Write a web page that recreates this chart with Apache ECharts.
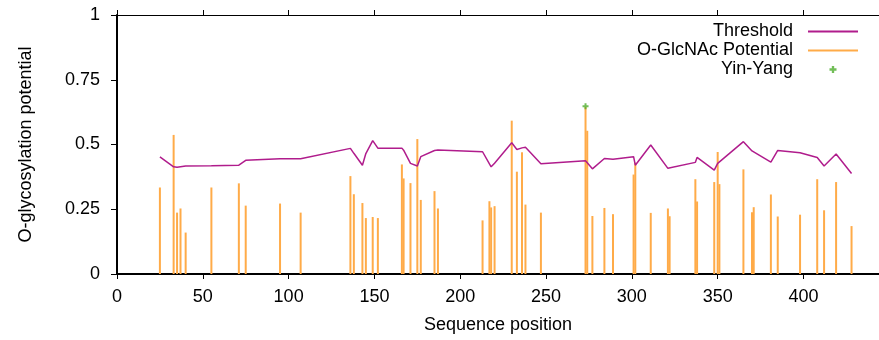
<!DOCTYPE html>
<html>
<head>
<meta charset="utf-8">
<script src="https://cdn.jsdelivr.net/npm/echarts@6/dist/echarts.min.js"></script>
<style>
  html, body { margin: 0; padding: 0; background: #fff; }
  #chart { width: 879px; height: 340px; }
</style>
</head>
<body>
<div id="chart"></div>
<script>
// site positions (S/T residues)
const positions = [25, 33, 35, 37, 40, 55, 71, 75, 95, 107,
  136, 138, 143, 145, 149, 152, 166, 167, 171, 175,
  177, 185, 187, 213, 217, 218, 220, 230, 233, 236,
  238, 247, 273, 274, 277, 284, 289, 301, 302, 311,
  321, 322, 337, 338, 348, 350, 351, 365, 370, 371,
  381, 385, 398, 408, 412, 419, 428];

const potential = [0.334, 0.537, 0.237, 0.253, 0.160, 0.334, 0.350, 0.264, 0.272, 0.237,
  0.378, 0.308, 0.274, 0.216, 0.220, 0.216, 0.423, 0.369, 0.351, 0.521,
  0.286, 0.320, 0.253, 0.207, 0.281, 0.257, 0.262, 0.592, 0.395, 0.470,
  0.268, 0.237, 0.645, 0.553, 0.224, 0.255, 0.231, 0.384, 0.430, 0.236,
  0.253, 0.223, 0.366, 0.280, 0.355, 0.471, 0.347, 0.404, 0.238, 0.258,
  0.307, 0.222, 0.229, 0.366, 0.246, 0.355, 0.185];

const threshold = [0.452, 0.414, 0.412, 0.414, 0.417, 0.418, 0.420, 0.439, 0.445, 0.445,
  0.485, 0.466, 0.420, 0.465, 0.515, 0.486, 0.486, 0.478, 0.427, 0.417,
  0.453, 0.477, 0.479, 0.472, 0.425, 0.414, 0.428, 0.507, 0.481, 0.487,
  0.489, 0.426, 0.437, 0.436, 0.406, 0.446, 0.443, 0.453, 0.420, 0.498,
  0.408, 0.415, 0.431, 0.450, 0.401, 0.427, 0.431, 0.511, 0.475, 0.468,
  0.432, 0.477, 0.468, 0.450, 0.417, 0.463, 0.388];

const yinYangPos = [273];
const yinYangVal = [0.648];

const xTicks = { min: 0, max: 444, interval: 50 };
const yTicks = { min: 0, max: 1, interval: 0.25 };

const FONT = 'Liberation Sans';
const LINE_ICON = 'path://M0,0H50V2H0Z';
const PLUS = 'path://M2,0H4V2H6V4H4V6H2V4H0V2H2Z';

let chart = echarts.init(document.getElementById('chart'), null, { renderer: 'canvas' });

let axisText = { color: '#000', fontFamily: FONT, fontSize: 18 };

let option = {
  animation: false,
  backgroundColor: '#fff',
  grid: { left: 117, right: 0, top: 15, bottom: 66 },
  legend: {
    right: 16,
    top: 17,
    orient: 'vertical',
    align: 'right',
    itemWidth: 50,
    itemHeight: 7,
    itemGap: 0,
    textStyle: { color: '#000', fontFamily: FONT, fontSize: 18, lineHeight: 19, padding: [0, 10, 0, 0] },
    data: [
      { name: 'Threshold', icon: LINE_ICON },
      { name: 'O-GlcNAc Potential', icon: LINE_ICON },
      { name: 'Yin-Yang', icon: PLUS }
    ]
  },
  xAxis: [{
    type: 'value',
    min: xTicks.min, max: xTicks.max, interval: xTicks.interval,
    name: 'Sequence position',
    nameLocation: 'middle',
    nameGap: 42,
    nameTextStyle: axisText,
    axisLine: { lineStyle: { color: '#000', width: 2 } },
    axisTick: { length: 5, lineStyle: { color: '#000', width: 1 } },
    axisLabel: Object.assign({ margin: 14, showMaxLabel: false }, axisText),
    splitLine: { show: false }
  }, {
    type: 'value',
    position: 'top',
    min: xTicks.min, max: xTicks.max, interval: xTicks.interval,
    axisLine: { lineStyle: { color: '#000', width: 1 } },
    axisTick: { length: 5, lineStyle: { color: '#000', width: 1 } },
    axisLabel: { show: false },
    splitLine: { show: false }
  }],
  yAxis: {
    type: 'value',
    min: yTicks.min, max: yTicks.max, interval: yTicks.interval,
    name: 'O-glycosylation potential',
    nameLocation: 'middle',
    nameGap: 82,
    nameTextStyle: axisText,
    axisLine: { show: true, lineStyle: { color: '#000', width: 2 } },
    axisTick: { show: true, length: 6, lineStyle: { color: '#000', width: 1 } },
    axisLabel: Object.assign({ margin: 17 }, axisText),
    splitLine: { show: false }
  },
  series: [{
    name: 'Threshold',
    type: 'line',
    symbol: 'none',
    z: 3,
    lineStyle: { color: '#b01c8c', width: 1.5 },
    itemStyle: { color: '#b01c8c' },
    data: positions.map((p, i) => [p, threshold[i]])
  }, {
    name: 'O-GlcNAc Potential',
    type: 'bar',
    barWidth: 2,
    z: 2,
    itemStyle: { color: '#ffab48' },
    data: positions.map((p, i) => [p, potential[i]])
  }, {
    name: 'Yin-Yang',
    type: 'scatter',
    symbol: PLUS,
    symbolSize: 6,
    z: 4,
    itemStyle: { color: '#4fae2e' },
    data: yinYangPos.map((p, i) => [p, yinYangVal[i]])
  }]
};

chart.setOption(option);
</script>
</body>
</html>
